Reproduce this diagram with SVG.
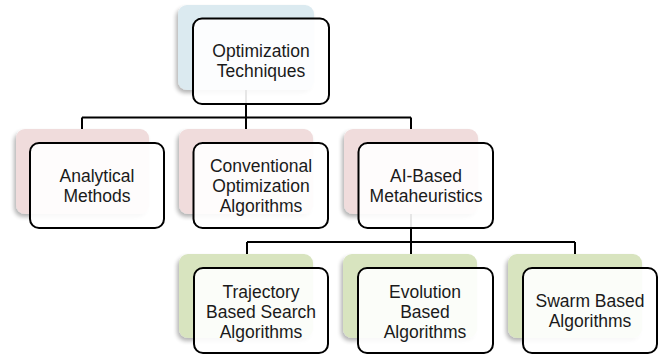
<svg xmlns="http://www.w3.org/2000/svg" width="665" height="358" viewBox="0 0 665 358">
  <defs>
    <filter id="shade" x="-20%" y="-20%" width="140%" height="140%">
      <feGaussianBlur in="SourceAlpha" stdDeviation="2"/>
      <feOffset dx="-2" dy="3" result="b"/>
      <feComponentTransfer><feFuncA type="linear" slope="0.3"/></feComponentTransfer>
      <feMerge><feMergeNode/><feMergeNode in="SourceGraphic"/></feMerge>
    </filter>
  </defs>
  <style>
    .conn { fill: none; stroke: #000; stroke-width: 2; }
    .back { stroke: none; filter: url(#shade); }
    .blue { fill: #dbeaf0; }
    .pink { fill: #f0dcdc; }
    .green { fill: #d8e4bf; }
    .box { fill: #ffffff; fill-opacity: 0.9; stroke: #000; stroke-width: 2; }
    text { font-family: "Liberation Sans", Arial, sans-serif; font-size: 17.5px; fill: #1a1a1a; text-anchor: middle; }
  </style>

  <rect width="665" height="358" fill="#fff"/>

  <g id="connectors">
    <path class="conn" d="M246 47 V117.5 M82 117.5 H411 M82 117.5 V129 M246 117.5 V129 M411 117.5 V129"/>
    <path class="conn" d="M411 171 V242 M247 242 H575 M247 242 V254 M411 242 V254 M575 242 V254"/>
  </g>

  <g id="optimization-techniques">
    <rect class="back blue" x="178" y="5" width="136" height="85" rx="9"/>
    <rect class="box" x="193" y="18.5" width="136" height="85.5" rx="9"/>
    <text x="261" y="57">Optimization</text>
    <text x="261" y="77">Techniques</text>
  </g>

  <g id="analytical-methods">
    <rect class="back pink" x="16" y="129" width="133" height="85" rx="9"/>
    <rect class="box" x="30" y="143" width="134" height="85" rx="9"/>
    <text x="97" y="182">Analytical</text>
    <text x="97" y="202">Methods</text>
  </g>

  <g id="conventional-optimization">
    <rect class="back pink" x="179" y="129" width="134" height="85" rx="9"/>
    <rect class="box" x="193.5" y="143" width="134.5" height="85" rx="9"/>
    <text x="261" y="172">Conventional</text>
    <text x="261" y="192">Optimization</text>
    <text x="261" y="212">Algorithms</text>
  </g>

  <g id="ai-based-metaheuristics">
    <rect class="back pink" x="344" y="129" width="134" height="85" rx="9"/>
    <rect class="box" x="358.5" y="143" width="134.5" height="85" rx="9"/>
    <text x="426" y="182">AI-Based</text>
    <text x="426" y="202">Metaheuristics</text>
  </g>

  <g id="trajectory-based">
    <rect class="back green" x="179" y="254" width="134" height="84" rx="9"/>
    <rect class="box" x="194" y="268" width="134" height="85" rx="9"/>
    <text x="261" y="298">Trajectory</text>
    <text x="261" y="318">Based Search</text>
    <text x="261" y="338">Algorithms</text>
  </g>

  <g id="evolution-based">
    <rect class="back green" x="343" y="254" width="134" height="84" rx="9"/>
    <rect class="box" x="358" y="268" width="135" height="85" rx="9"/>
    <text x="425" y="298">Evolution</text>
    <text x="425" y="318">Based</text>
    <text x="425" y="338">Algorithms</text>
  </g>

  <g id="swarm-based">
    <rect class="back green" x="508" y="254" width="134" height="84" rx="9"/>
    <rect class="box" x="523" y="268" width="134" height="85" rx="9"/>
    <text x="590" y="307">Swarm Based</text>
    <text x="590" y="327">Algorithms</text>
  </g>
</svg>
